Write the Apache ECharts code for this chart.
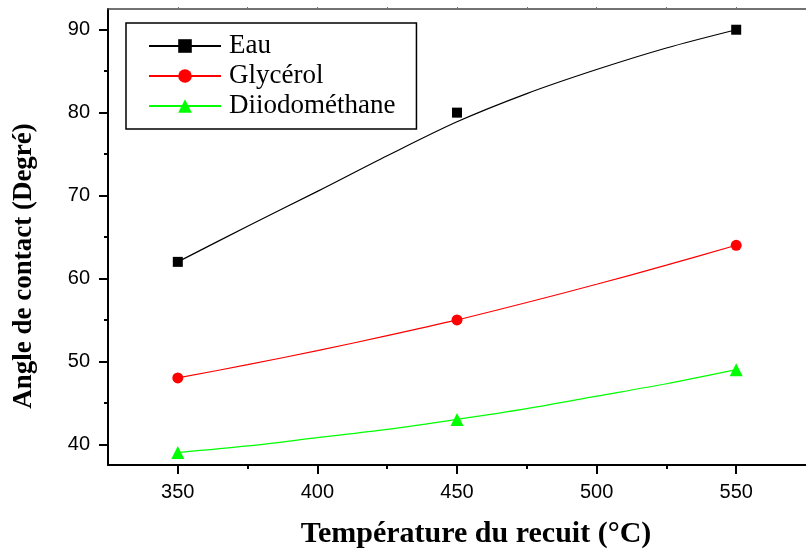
<!DOCTYPE html>
<html>
<head>
<meta charset="utf-8">
<script src="https://cdn.jsdelivr.net/npm/echarts@6/dist/echarts.min.js"></script>
<style>
  html, body { margin: 0; padding: 0; background: #fff; }
  #chart { width: 806px; height: 554px; }
</style>
</head>
<body>
<div id="chart"></div>
<script>
// mesures
let temps = [350, 450, 550];
let eau = [62, 80, 90];
let glycerol = [48, 55, 64];
let diiodo = [39, 43, 49];

// courbes lissées
let fitTemps = [350, 375, 400, 425, 450, 475, 500, 525, 550];
let eauFit = [62, 66.3, 70.5, 74.8, 78.9, 82.3, 85.2, 87.8, 90.0];
let glycerolFit = [48, 49.6, 51.3, 53.1, 55, 57.1, 59.3, 61.6, 64];
let diiodoFit = [39, 39.8, 40.8, 41.8, 43, 44.3, 45.8, 47.3, 49];

let xLabels = [350, 400, 450, 500, 550];
let xMinor = [375, 425, 475, 525];
let yLabels = [40, 50, 60, 70, 80, 90];
let yMinor = [45, 55, 65, 75, 85];

function pairs(xs, ys) {
  return xs.map(function (x, i) { return [x, ys[i]]; });
}

let serif = '"Liberation Serif", "DejaVu Serif", serif';
let sans = '"Liberation Sans", Arial, sans-serif';

let chart = echarts.init(document.getElementById('chart'));

let option = {
  backgroundColor: '#ffffff',
  animation: false,
  grid: { left: 108, top: 9, right: -8, bottom: 87, containLabel: false },
  legend: {
    orient: 'vertical',
    left: 126,
    top: 23,
    data: ['Eau', 'Glycérol', 'Diiodométhane'],
    itemWidth: 72,
    itemHeight: 17,
    itemGap: 0,
    padding: [8, 21, 8, 22],
    borderColor: '#000',
    borderWidth: 1.5,
    textStyle: { fontFamily: serif, fontSize: 27, color: '#000', lineHeight: 30, padding: [0, 0, 0, 3] }
  },
  xAxis: [
    {
      type: 'value', min: 325, max: 575, position: 'bottom',
      name: 'Température du recuit (°C)',
      nameLocation: 'middle', nameGap: 54,
      nameTextStyle: { fontFamily: serif, fontSize: 30, fontWeight: 'bold', color: '#000', padding: [0, 0, 0, 38] },
      axisLine: { lineStyle: { color: '#000', width: 2 } },
      axisTick: { length: 9, lineStyle: { color: '#000', width: 2 }, customValues: xLabels },
      axisLabel: { customValues: xLabels, margin: 17, fontFamily: sans, fontSize: 20, color: '#000' },
      splitLine: { show: false }
    },
    {
      type: 'value', min: 325, max: 575, position: 'bottom',
      axisLine: { show: false },
      axisTick: { length: 4, lineStyle: { color: '#000', width: 2 }, customValues: xMinor },
      axisLabel: { show: false },
      splitLine: { show: false }
    },
    {
      type: 'value', min: 325, max: 575, position: 'top',
      axisLine: { lineStyle: { color: '#444', width: 1.5 } },
      axisTick: { length: 2, lineStyle: { color: '#777', width: 1 }, customValues: [350, 375, 400, 425, 450, 475, 500, 525, 550] },
      axisLabel: { show: false },
      splitLine: { show: false }
    }
  ],
  yAxis: [
    {
      type: 'value', min: 37.5, max: 92.5, position: 'left',
      name: 'Angle de contact (Degré)',
      nameLocation: 'middle', nameGap: 70,
      nameTextStyle: { fontFamily: serif, fontSize: 27, fontWeight: 'bold', color: '#000', padding: [0, 58, 0, 0] },
      axisLine: { show: true, lineStyle: { color: '#000', width: 2 } },
      axisTick: { show: true, length: 9, lineStyle: { color: '#000', width: 2 }, customValues: yLabels },
      axisLabel: { customValues: yLabels, margin: 18, fontFamily: sans, fontSize: 20, color: '#000' },
      splitLine: { show: false }
    },
    {
      type: 'value', min: 37.5, max: 92.5, position: 'left',
      axisLine: { show: false },
      axisTick: { show: true, length: 4, lineStyle: { color: '#000', width: 2 }, customValues: yMinor },
      axisLabel: { show: false },
      splitLine: { show: false }
    }
  ],
  series: [
    {
      name: 'Eau', type: 'line', smooth: 0.3, data: pairs(fitTemps, eauFit),
      showSymbol: false, symbol: 'rect', symbolSize: 12,
      itemStyle: { color: '#000' }, lineStyle: { color: '#000', width: 1.2 }
    },
    {
      name: 'Glycérol', type: 'line', smooth: 0.3, data: pairs(fitTemps, glycerolFit),
      showSymbol: false, symbol: 'circle', symbolSize: 14,
      itemStyle: { color: '#ff0000' }, lineStyle: { color: '#ff0000', width: 1.2 }
    },
    {
      name: 'Diiodométhane', type: 'line', smooth: 0.3, data: pairs(fitTemps, diiodoFit),
      showSymbol: false, symbol: 'triangle', symbolSize: 14,
      itemStyle: { color: '#00ff00' }, lineStyle: { color: '#00ff00', width: 1.2 }
    },
    {
      name: 'Eau pts', type: 'scatter', data: pairs(temps, eau), z: 5,
      symbol: 'rect', symbolSize: 10, itemStyle: { color: '#000', opacity: 1 }
    },
    {
      name: 'Glycérol pts', type: 'scatter', data: pairs(temps, glycerol), z: 5,
      symbol: 'circle', symbolSize: 11, itemStyle: { color: '#ff0000', opacity: 1 }
    },
    {
      name: 'Diiodométhane pts', type: 'scatter', data: pairs(temps, diiodo), z: 5,
      symbol: 'triangle', symbolSize: 13, itemStyle: { color: '#00ff00', opacity: 1 }
    }
  ]
};

chart.setOption(option);
</script>
</body>
</html>
